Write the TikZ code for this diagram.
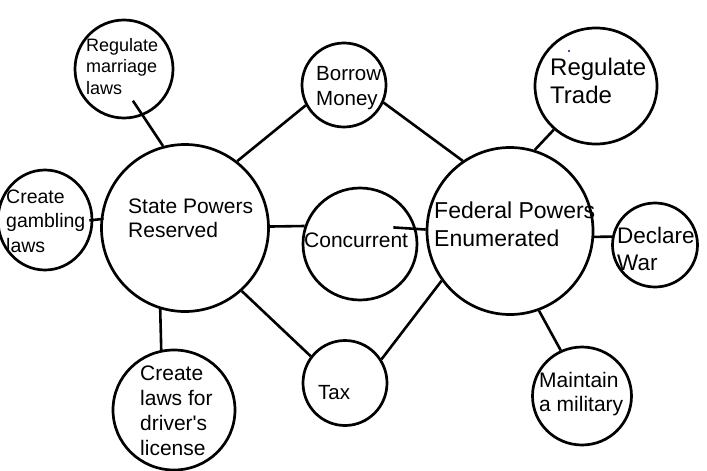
\documentclass[tikz,border=0pt]{standalone}
\usepackage{fontspec}
\setmainfont{Liberation Sans}
\usetikzlibrary{shapes.geometric}

\begin{document}
\begin{tikzpicture}[x=1pt,y=-1pt,
    bubble/.style={draw,ellipse,line width=2.7pt,inner sep=0pt},
    link/.style={line width=2.6pt},
    words/.style={anchor=base west,align=left,inner sep=0pt}]
    \useasboundingbox (0,0) rectangle (707,471);
    % the bubbles
    \node[bubble,minimum width=98pt,minimum height=98pt] (marriage) at (124,69) {};
    \node[bubble,minimum width=94pt,minimum height=100pt] (gambling) at (45,220) {};
    \node[bubble,minimum width=167pt,minimum height=167pt] (state) at (185,228) {};
    \node[bubble,minimum width=84pt,minimum height=84pt] (borrow) at (344,85) {};
    \node[bubble,minimum width=114pt,minimum height=112pt] (concurrent) at (360,244) {};
    \node[bubble,minimum width=84pt,minimum height=85pt] (tax) at (345,383) {};
    \node[bubble,minimum width=166pt,minimum height=167pt] (federal) at (510,231) {};
    \node[bubble,minimum width=122pt,minimum height=116pt] (trade) at (596,86) {};
    \node[bubble,minimum width=85pt,minimum height=84pt] (war) at (655,245) {};
    \node[bubble,minimum width=122pt,minimum height=120pt] (license) at (174,410) {};
    \node[bubble,minimum width=99pt,minimum height=98pt] (military) at (582,396) {};
    % the texts (base = last line)
    \node[words,font=\fontsize{18}{21.5}\selectfont] (marriagetext) at (86,94) {Regulate\\marriage\\laws};
    \node[words,font=\fontsize{19.5}{24.5}\selectfont] (gamblingtext) at (6,252) {Create\\gambling\\laws};
    \node[words,font=\fontsize{21}{24}\selectfont] (statetext) at (128,237) {State Powers\\Reserved};
    \node[words,font=\fontsize{20.5}{25}\selectfont] (borrowtext) at (316,105) {Borrow\\Money};
    \node[words,font=\fontsize{21}{25}\selectfont] (concurrenttext) at (304,247) {Concurrent};
    \node[words,font=\fontsize{20.5}{25}\selectfont] (taxtext) at (318,399) {Tax};
    \node[words,font=\fontsize{23}{28}\selectfont] (federaltext) at (434,246) {Federal Powers\\Enumerated};
    \node[words,font=\fontsize{24}{28}\selectfont] (tradetext) at (550,103) {Regulate\\Trade};
    \node[words,font=\fontsize{22.5}{27}\selectfont] (wartext) at (617,270) {Declare\\War};
    \node[words,font=\fontsize{21}{24.7}\selectfont] (licensetext) at (140,455) {Create\\laws for\\driver\textquotesingle s\\license};
    \node[words,font=\fontsize{21}{24}\selectfont] (militarytext) at (539,411) {Maintain\\a military};
    % the links
    \draw[link,shorten >=-18pt] (state.105) -- (marriage.-68);
    \draw[link,shorten <=-3pt,shorten >=-4pt] (state.174.5) -- (gambling.0);
    \draw[link] (state.52) -- (borrow.208);
    \draw[link] (state.1) -- (concurrent.162);
    \draw[link] (state.-48) -- (tax.142);
    \draw[link] (state.-107) -- (license.102);
    \draw[link] (borrow.-24) -- (federal.124);
    \draw[link,shorten >=-23pt] (federal.179) -- (concurrent.15);
    \draw[link] (tax.33) -- (federal.216);
    \draw[link] (federal.73) -- (trade.226);
    \draw[link] (federal.-4) -- (war.169);
    \draw[link] (federal.-70) -- (military.115);
    \fill[blue!80!black] (569,51) circle (1.2pt);
\end{tikzpicture}
\end{document}
